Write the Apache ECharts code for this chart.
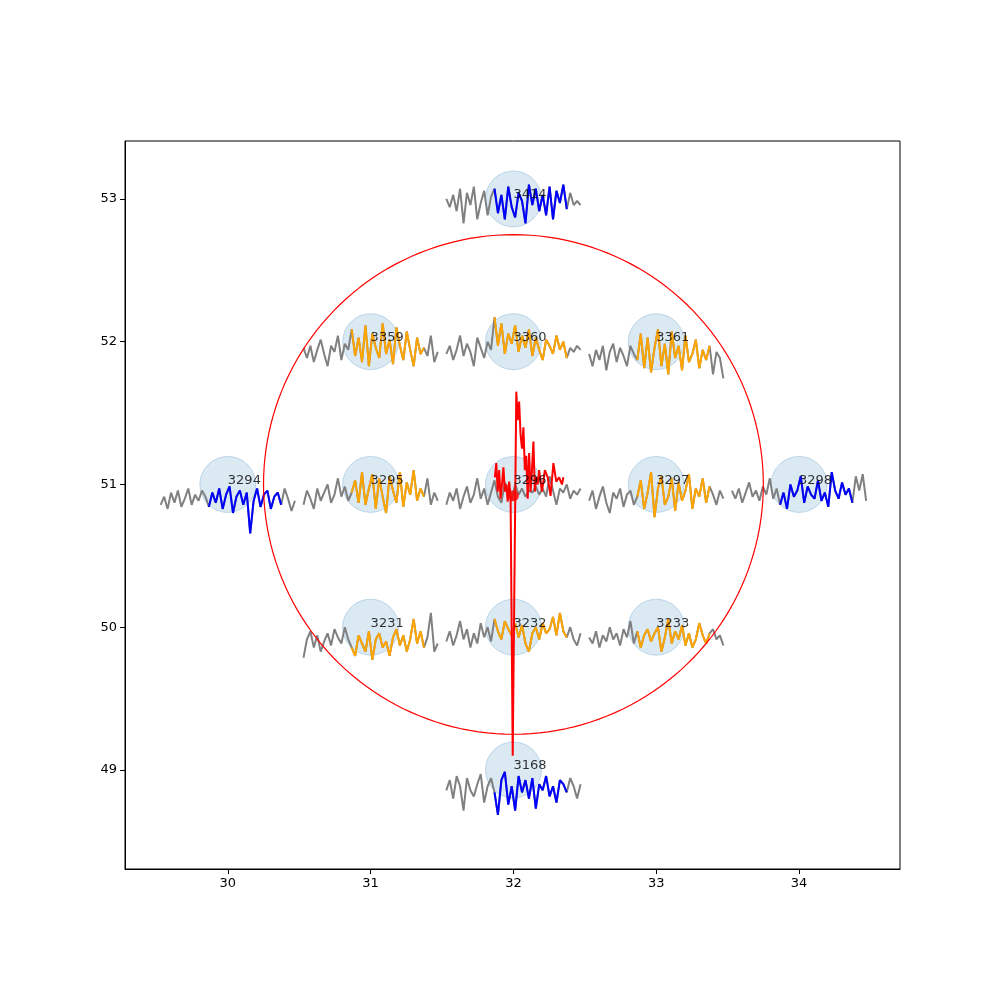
<!DOCTYPE html>
<html><head><meta charset="utf-8">
<script src="https://cdn.jsdelivr.net/npm/echarts@6/dist/echarts.min.js"></script>
<style>body{margin:0}#c{width:1000px;height:1000px}</style></head>
<body><div id="c"></div>
<script>
// stations: name, lon, lat, colour of highlighted window
var stationNames = ['3414','3359','3360','3361','3294','3295','3296','3297','3298','3231','3232','3233','3168'];
var stationX = [32,31,32,33,30,31,32,33,34,31,32,33,32];
var stationY = [53,52,52,52,51,51,51,51,51,50,50,50,49];
var stationColor = ['blue','orange','orange','orange','blue','orange','red','orange','blue','orange','orange','orange','blue'];

// trace offsets (1/70 degree units), 40 samples across each station
var traceUnit = 70;
var traces = [
  [0,-4,2,-6,5,-12,3,-3,6,-10,-2,4,-8,1,5,-7,2,-10,6,-4,-9,3,-1,-12,7,-3,5,-6,2,-8,6,-10,4,-2,7,-5,3,-3,-1,-3],
  [-3,-8,-2,-10,-4,1,-6,-12,-2,-5,3,-9,-1,-4,6,-7,2,-10,8,-12,4,-3,-8,9,-6,1,-11,7,-2,-9,5,-4,-12,2,-6,-3,-7,3,-10,-5],
  [-6,-2,-9,-4,3,-7,-1,-5,-12,2,-3,-8,0,-4,12,-2,9,-6,4,-1,8,-5,3,-3,6,-7,2,-4,-9,1,-2,-6,3,-4,0,-8,-3,-5,-2,-4],
  [-6,-12,-4,-9,-2,-14,-5,-1,-10,-3,-7,-12,-2,-6,-9,4,-13,2,-15,-3,6,-12,-1,-16,5,-8,-2,-14,3,-10,-6,1,-13,-4,-9,-2,-16,-5,-8,-18],
  [-10,-6,-12,-4,-9,-3,-11,-7,-2,-10,-5,-8,-3,-6,-11,-4,-9,-2,-12,-5,-1,-14,-6,-3,-10,-4,-24,-8,-2,-11,-5,-3,-12,-6,-4,-10,-2,-7,-13,-8],
  [-10,-3,-7,-12,-2,-8,-4,0,-9,-5,3,-6,-1,-8,-4,2,-9,6,-10,-2,5,-12,3,-6,-14,4,-3,-9,6,-11,1,-5,7,-8,-2,-6,3,-10,-4,-8],
  [-10,-4,-8,-2,-12,-6,-1,-9,-5,3,-7,-2,-10,-4,2,-6,-9,1,-3,-8,0,-5,-2,-6,-3,-4,-1,-5,-2,-6,4,-3,-10,-2,-4,0,-7,-3,-5,-2],
  [-8,-3,-12,-6,-1,-9,-14,-4,-7,-2,-11,-5,-3,-10,-6,2,-12,-4,6,-16,-2,4,-10,-6,3,-13,1,-8,-3,5,-12,-2,-6,3,-9,-1,-5,-10,-3,-7],
  [-3,-7,-2,-9,-4,1,-6,-3,-8,-1,-5,3,-7,-2,-10,-4,-12,0,-6,-3,4,-9,-1,-5,-7,2,-8,-4,-11,6,-3,-7,1,-5,-2,-9,4,-3,5,-8],
  [-15,-6,-2,-10,-4,-12,-7,-3,-9,-1,-5,-8,0,-6,-10,-14,-4,-8,-12,-2,-16,-6,-3,-10,-7,-14,-5,-1,-9,-4,-12,-6,4,-8,-2,-10,-5,7,-12,-8],
  [-7,-2,-9,-4,3,-6,-1,-10,-3,-8,2,-5,0,-7,4,-2,-6,3,-1,-4,2,-5,1,-8,-12,-3,0,-6,2,-3,-1,5,-4,7,-2,-5,0,-6,-9,-3],
  [-5,-8,-2,-10,-4,-7,0,-6,-3,-9,-1,-5,3,-8,-2,-10,-4,-1,-7,-3,0,-12,-5,4,-8,-2,-6,1,-9,-3,-10,-6,2,-4,-8,-3,-1,-6,-4,-9],
  [-10,-5,-14,-3,-8,-20,-4,-10,-13,-7,-2,-16,-8,-4,-11,-22,-5,-1,-17,-8,-20,-3,-11,-5,-14,-4,-19,-7,-10,-3,-13,-8,-16,-5,-7,-11,-4,-8,-14,-7]
];
var colStart = 14, colEnd = 35;

// red event trace at 3296
var redX = [31.87,31.88,31.89,31.9,31.91,31.92,31.93,31.94,31.95,31.96,31.97,31.98,31.995,32.02,32.03,32.04,32.05,32.06,32.07,32.08,32.09,32.1,32.11,32.12,32.13,32.14,32.15,32.16,32.17,32.18,32.2,32.22,32.24,32.26,32.28,32.3,32.32,32.34,32.35];
var redY = [51.05,51.15,50.95,51.1,50.9,51.0,51.12,50.95,51.0,50.88,51.02,50.92,49.1,51.65,51.45,51.58,51.35,51.25,51.4,51.1,51.2,50.9,51.22,50.95,51.1,51.3,50.95,51.05,51.0,51.1,50.95,51.1,51.05,50.92,51.15,51.02,51.05,51.0,51.05];
var eventPoint = [32.0, 50.92];
var ringCenter = [32, 51], ringRadius = 1.75;

var xTicks = [30,31,32,33,34], yTicks = [49,50,51,52,53];

var stationPts = stationX.map(function(x,i){return [x, stationY[i], stationNames[i]];});
var series = [];
series.push({type:'scatter', data: stationPts, symbolSize: 56, z: 1,
  itemStyle: {color:'rgba(31,119,180,0.2)', borderColor:'rgba(31,119,180,0.3)', borderWidth:1}});
traces.forEach(function(tr, i){
  var n = tr.length, pts = tr.map(function(v,k){return [stationX[i]-0.47+0.94*k/(n-1), stationY[i]+v/traceUnit];});
  series.push({type:'line', data: pts, showSymbol:false, lineStyle:{color:'gray', width:2}, z: 2});
  if (stationColor[i] !== 'red')
    series.push({type:'line', data: pts.slice(colStart, colEnd+1), showSymbol:false, lineStyle:{color:stationColor[i], width:2}, z: 3});
});
series.push({type:'line', data: redX.map(function(x,i){return [x, redY[i]];}), showSymbol:false, lineStyle:{color:'red', width:2}, z: 4});
series.push({type:'scatter', data:[eventPoint], symbolSize:11, itemStyle:{color:'red'}, z: 5});
var ring = [];
for (var a = 0; a <= 360; a += 2) ring.push([ringCenter[0]+ringRadius*Math.cos(a*Math.PI/180), ringCenter[1]+ringRadius*Math.sin(a*Math.PI/180)]);
series.push({type:'line', data: ring, showSymbol:false, lineStyle:{color:'red', width:1.2}, z: 4});
// station labels on top
series.push({type:'scatter', data: stationPts, symbolSize: 56, z: 10, itemStyle:{color:'rgba(0,0,0,0)'},
  label: {show:true, position:[28,24], align:'left', verticalAlign:'middle', color:'#000', fontSize:13,
    fontFamily:'DejaVu Sans', formatter:function(p){return p.value[2];}}});

var chart = echarts.init(document.getElementById('c'));
function axis(min, max, ticks){
  return {type:'value', min:min, max:max, axisLine:{show:true, onZero:false, lineStyle:{color:'#000'}}, splitLine:{show:false},
    axisTick:{show:true, length:5, lineStyle:{color:'#000'}, customValues:ticks},
    axisLabel:{color:'#000', fontSize:13, fontFamily:'DejaVu Sans', customValues:ticks}};
}
chart.setOption({
  animation:false,
  grid:{left:125, right:100, top:141, bottom:131, show:true, borderColor:'#000', borderWidth:1},
  xAxis: axis(29.28, 34.707, xTicks),
  yAxis: axis(48.306, 53.406, yTicks),
  series: series
});
</script></body></html>
